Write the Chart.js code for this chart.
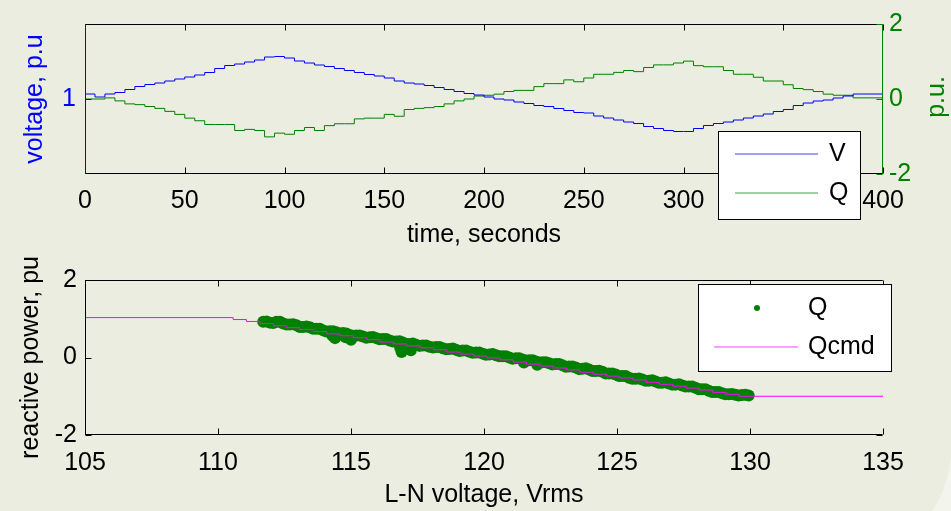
<!DOCTYPE html>
<html><head><meta charset="utf-8">
<script src="https://cdn.jsdelivr.net/npm/chart.js@4.4.1/dist/chart.umd.min.js"></script>
<style>
html,body{margin:0;padding:0;width:951px;height:511px;overflow:hidden;background:#f3f4ec;}
#bg{position:absolute;left:0;top:0;width:951px;height:557px;background:#eaeddf;border-bottom-right-radius:107px;}
canvas{position:absolute;left:0;}
#c1{top:0;width:951px;height:255px;}
#c2{top:255px;width:951px;height:256px;}
</style></head><body>
<div id="bg"></div>
<canvas id="c1" width="951" height="255"></canvas>
<canvas id="c2" width="951" height="256"></canvas>
<script>
// ---- top plot data ----
const timeSec = [0,5,10,15,20,25,30,35,40,45,50,55,60,65,70,75,80,85,90,95,100,105,110,115,120,125,130,135,140,145,150,155,160,165,170,175,180,185,190,195,200,205,210,215,220,225,230,235,240,245,250,255,260,265,270,275,280,285,290,295,300,305,310,315,320,325,330,335,340,345,350,355,360,365,370,375,380,385,390,395,400];
const voltagePu = [1.010,1.004,1.010,1.013,1.019,1.025,1.029,1.032,1.036,1.040,
1.044,1.048,1.053,1.061,1.067,1.070,1.074,1.078,1.084,1.085,
1.082,1.076,1.072,1.068,1.065,1.061,1.057,1.053,1.049,1.046,
1.042,1.036,1.032,1.030,1.027,1.023,1.019,1.015,1.011,1.008,
1.004,1.000,0.998,0.994,0.991,0.987,0.985,0.981,0.977,0.973,
0.972,0.966,0.962,0.958,0.954,0.951,0.945,0.941,0.937,0.935,
0.935,0.941,0.947,0.951,0.954,0.958,0.962,0.966,0.970,0.975,
0.979,0.987,0.992,0.996,0.998,1.002,1.006,1.010,1.010,1.010,
1.010];
const reactivePu = [0.00,0.00,0.03,-0.05,-0.13,-0.15,-0.20,-0.25,-0.33,-0.41,
-0.51,-0.58,-0.68,-0.68,-0.68,-0.84,-0.81,-0.84,-1.01,-0.91,
-0.94,-0.84,-0.76,-0.84,-0.71,-0.66,-0.66,-0.53,-0.51,-0.51,
-0.41,-0.46,-0.28,-0.25,-0.23,-0.20,-0.13,-0.05,0.00,0.08,
0.10,0.13,0.20,0.23,0.23,0.33,0.41,0.41,0.51,0.46,
0.56,0.66,0.66,0.71,0.76,0.73,0.84,0.91,0.91,0.96,
1.01,0.89,0.86,0.86,0.76,0.66,0.66,0.58,0.48,0.48,
0.38,0.28,0.25,0.20,0.13,0.10,0.10,0.03,0.03,0.03,
-0.03];
const timeTicks = [0,50,100,150,200,250,300,350,400];
const voltageTicks = [1];
const reactiveTicks = [-2,0,2];

// ---- bottom plot data ----
const qcmdVrms = [105,110.57,111.07,111.58,112.08,112.58,113.08,113.58,114.09,114.59,115.09,115.59,116.09,116.6,117.1,117.6,118.1,118.6,119.1,119.6,120.1,120.6,121.1,121.6,122.1,122.6,123.1,123.6,124.1,124.6,125.1,125.6,126.1,126.6,127.1,127.6,128.1,128.6,129.1,129.6,135];
const qcmdPu = [1.03,0.98,0.93,0.88,0.82,0.77,0.72,0.67,0.61,0.56,0.51,0.46,0.40,0.35,0.30,0.25,0.20,0.14,0.09,0.04,-0.01,-0.06,-0.12,-0.17,-0.22,-0.27,-0.32,-0.38,-0.43,-0.48,-0.53,-0.58,-0.64,-0.69,-0.74,-0.79,-0.84,-0.90,-0.95,-1.00,-1.00];
// measured Q cloud: centre readings
const qMeasVrms = [111.7,111.95,112.2,112.45,112.7,112.95,113.2,113.45,113.7,113.95,114.2,114.45,114.7,114.95,115.2,115.45,115.7,115.95,116.2,116.45,116.7,116.95,117.2,117.45,117.7,117.95,118.2,118.45,118.7,118.95,119.2,119.45,119.7,119.95,120.2,120.45,120.7,120.95,121.2,121.45,121.7,121.95,122.2,122.45,122.7,122.95,123.2,123.45,123.7,123.95,124.2,124.45,124.7,124.95,125.2,125.45,125.7,125.95,126.2,126.45,126.7,126.95,127.2,127.45,127.7,127.95,128.2,128.45,128.7,128.95,129.2,129.45,129.7,129.95];
const qMeasPu = [0.92,0.90,0.92,0.88,0.85,0.83,0.79,0.78,0.74,0.70,0.68,0.65,0.63,0.58,0.57,0.54,0.52,0.50,0.48,0.44,0.41,0.39,0.35,0.33,0.31,0.28,0.27,0.24,0.22,0.20,0.18,0.15,0.13,0.10,0.08,0.06,0.03,0.00,-0.02,-0.05,-0.07,-0.10,-0.12,-0.15,-0.17,-0.20,-0.23,-0.26,-0.29,-0.31,-0.35,-0.37,-0.41,-0.44,-0.48,-0.52,-0.55,-0.57,-0.60,-0.62,-0.65,-0.67,-0.70,-0.72,-0.75,-0.78,-0.82,-0.86,-0.89,-0.92,-0.95,-0.96,-0.97,-0.98];
// measured Q cloud: readings between the centre readings
const qEdgeVrms = [111.825,112.075,112.325,112.575,112.825,113.075,113.325,113.575,113.825,114.075,114.325,114.575,114.825,115.075,115.325,115.575,115.825,116.075,116.325,116.575,116.825,117.075,117.325,117.575,117.825,118.075,118.325,118.575,118.825,119.075,119.325,119.575,119.825,120.075,120.325,120.575,120.825,121.075,121.325,121.575,121.825,122.075,122.325,122.575,122.825,123.075,123.325,123.575,123.825,124.075,124.325,124.575,124.825,125.075,125.325,125.575,125.825,126.075,126.325,126.575,126.825,127.075,127.325,127.575,127.825,128.075,128.325,128.575,128.825,129.075,129.325,129.575,129.825];
const qEdgePu = [0.93,0.89,0.92,0.85,0.86,0.79,0.80,0.74,0.74,0.67,
0.68,0.62,0.62,0.56,0.57,0.51,0.53,0.47,0.48,0.41,
0.42,0.35,0.36,0.30,0.31,0.26,0.27,0.21,0.23,0.17,
0.18,0.12,0.13,0.07,0.09,0.03,0.03,-0.03,-0.02,-0.08,
-0.07,-0.13,-0.12,-0.18,-0.17,-0.24,-0.23,-0.30,-0.28,-0.35,
-0.34,-0.41,-0.41,-0.48,-0.48,-0.55,-0.54,-0.60,-0.59,-0.65,
-0.64,-0.70,-0.69,-0.75,-0.75,-0.82,-0.82,-0.89,-0.89,-0.95,
-0.94,-0.98,-0.96];
// measured Q cloud: downward excursions
const qDipVrms = [114.3,114.4,114.8,115.0,116.85,116.9,117.2,117.25,121.5,122.0];
const qDipPu = [0.57,0.50,0.52,0.46,0.25,0.14,0.28,0.19,-0.13,-0.19];
const vrmsTicks = [105,110,115,120,125,130,135];
const qTicks = [-2,0,2];

const FAM = '"Liberation Sans", Arial, Helvetica, sans-serif';
const FS = 25;
const BLUE = '#0000ff', GREEN = '#008000', MAG = '#ff00ff';

function fixedTicks(arr){ return function(scale){ scale.ticks = arr.map(v => ({value: v})); }; }
function pts(xs, ys){ return xs.map((x, i) => ({x: x, y: ys[i]})); }

// box + inward ticks
function framePlugin(cfg){
  return { id: 'frame', afterDatasetsDraw(chart){
    const ctx = chart.ctx, a = chart.chartArea;
    const L = Math.round(a.left) + 0.5, R = Math.round(a.right) - 0.5;
    const T = Math.round(a.top) + 0.5, B = Math.round(a.bottom) - 0.5;
    const TL = 6;
    ctx.save(); ctx.lineWidth = 1;
    const line = (c, x1, y1, x2, y2) => { ctx.strokeStyle = c; ctx.beginPath(); ctx.moveTo(x1, y1); ctx.lineTo(x2, y2); ctx.stroke(); };
    line('#000', L, T, R, T);
    line('#000', L, B, R, B);
    const xs = chart.scales.x;
    xs.ticks.forEach(t => { const p = Math.round(xs.getPixelForValue(t.value)) + 0.5; line('#000', p, B, p, B - TL); line('#000', p, T, p, T + TL); });
    cfg.sides.forEach(s => {
      const sc = chart.scales[s.scale];
      const X = s.side === 'left' ? L : R, dir = s.side === 'left' ? 1 : -1;
      line(s.color, X, a.top, X, a.bottom);
      sc.ticks.forEach(t => { const p = Math.round(sc.getPixelForValue(t.value)) + 0.5; line(s.color, X, p, X + dir * TL, p); });
      if (s.mirror) sc.ticks.forEach(t => { const p = Math.round(sc.getPixelForValue(t.value)) + 0.5; const X2 = s.side === 'left' ? R : L; line(s.color, X2, p, X2 - dir * TL, p); });
    });
    ctx.restore();
  }};
}

function legendPlugin(cfg){
  return { id: 'boxlegend', afterDraw(chart){
    const ctx = chart.ctx; const oy = cfg.offsetY || 0;
    ctx.save();
    ctx.fillStyle = '#fff'; ctx.fillRect(cfg.x, cfg.y - oy, cfg.w, cfg.h);
    ctx.strokeStyle = '#000'; ctx.lineWidth = 1; ctx.strokeRect(cfg.x + 0.5, cfg.y - oy + 0.5, cfg.w, cfg.h);
    ctx.font = FS + 'px ' + FAM; ctx.textBaseline = 'middle'; ctx.textAlign = 'left'; ctx.fillStyle = '#000';
    cfg.items.forEach(it => {
      const ds = chart.data.datasets[it.ds];
      const y = it.y - oy;
      if (it.kind === 'dot') {
        ctx.fillStyle = ds.backgroundColor; ctx.beginPath(); ctx.arc(it.mx, y, 3, 0, Math.PI * 2); ctx.fill();
      } else {
        ctx.strokeStyle = ds.borderColor; ctx.globalAlpha = 0.75; ctx.beginPath(); ctx.moveTo(it.x1, y); ctx.lineTo(it.x2, y); ctx.stroke(); ctx.globalAlpha = 1;
      }
      ctx.fillStyle = '#000'; ctx.fillText(ds.label, it.tx, y);
    });
    if (cfg.extra) cfg.extra(ctx);
    ctx.restore();
  }};
}

// ---------- top chart ----------
new Chart(document.getElementById('c1'), {
  type: 'line',
  data: { datasets: [
    { label: 'V', yAxisID: 'y', data: pts(timeSec, voltagePu), borderColor: BLUE, backgroundColor: BLUE, borderWidth: 1, pointRadius: 0, stepped: true, order: 0 },
    { label: 'Q', yAxisID: 'y2', data: pts(timeSec, reactivePu), borderColor: GREEN, backgroundColor: GREEN, borderWidth: 1, pointRadius: 0, stepped: true, order: 1 }
  ]},
  options: {
    responsive: false, animation: false, events: [],
    layout: { padding: { top: 16, left: 0, right: 0, bottom: 0 } },
    plugins: { legend: { display: false }, tooltip: { enabled: false } },
    scales: {
      x: { type: 'linear', min: 0, max: 400, afterBuildTicks: fixedTicks(timeTicks), afterFit(s){ s.height = 81; },
           grid: { display: false, drawTicks: false }, border: { display: false },
           ticks: { autoSkip: false, maxRotation: 0, padding: 12, color: '#000', font: { family: FAM, size: FS } },
           title: { display: true, text: 'time, seconds', color: '#000', font: { family: FAM, size: FS }, padding: { top: 0, bottom: 5 } } },
      y: { type: 'linear', position: 'left', min: 0.85, max: 1.15, afterBuildTicks: fixedTicks(voltageTicks), afterFit(s){ s.width = 85; },
           grid: { display: false, drawTicks: false }, border: { display: false },
           ticks: { padding: 9, color: BLUE, font: { family: FAM, size: FS }, callback: v => String(v) },
           title: { display: true, text: 'voltage, p.u', color: BLUE, font: { family: FAM, size: FS }, padding: { top: 20, bottom: 0 } } },
      y2: { type: 'linear', position: 'right', min: -2, max: 2, afterBuildTicks: fixedTicks(reactiveTicks), afterFit(s){ s.width = 68; },
           grid: { display: false, drawTicks: false }, border: { display: false },
           ticks: { padding: 6, color: GREEN, font: { family: FAM, size: FS }, callback: v => String(v) },
           title: { display: false } }
    }
  },
  plugins: [
    framePlugin({ sides: [ { scale: 'y', side: 'left', color: BLUE }, { scale: 'y2', side: 'right', color: GREEN } ] }),
    legendPlugin({ x: 718, y: 131, w: 142, h: 88, items: [
      { ds: 0, x1: 735, x2: 818, y: 154, tx: 829 },
      { ds: 1, x1: 735, x2: 818, y: 193, tx: 829 } ],
      extra(ctx){ ctx.save(); ctx.fillStyle = GREEN; ctx.font = FS + 'px ' + FAM; ctx.textAlign = 'center'; ctx.textBaseline = 'middle';
        ctx.translate(937, 97); ctx.rotate(-Math.PI / 2); ctx.fillText('p.u.', 0, 0); ctx.restore(); } })
  ]
});

// ---------- bottom chart ----------
const qCloud = pts(qMeasVrms, qMeasPu).concat(pts(qEdgeVrms, qEdgePu), pts(qDipVrms, qDipPu));
new Chart(document.getElementById('c2'), {
  type: 'scatter',
  data: { datasets: [
    { label: 'Q', type: 'scatter', data: qCloud, backgroundColor: GREEN, borderColor: GREEN, borderWidth: 0, pointRadius: 6, order: 1 },
    { label: 'Qcmd', type: 'line', data: pts(qcmdVrms, qcmdPu), borderColor: MAG, backgroundColor: MAG, borderWidth: 1, pointRadius: 0, stepped: true, fill: false, order: 0 }
  ]},
  options: {
    responsive: false, animation: false, events: [],
    layout: { padding: { top: 25, left: 0, right: 68, bottom: 0 } },
    plugins: { legend: { display: false }, tooltip: { enabled: false } },
    scales: {
      x: { type: 'linear', min: 105, max: 135, afterBuildTicks: fixedTicks(vrmsTicks), afterFit(s){ s.height = 76; },
           grid: { display: false, drawTicks: false }, border: { display: false },
           ticks: { autoSkip: false, maxRotation: 0, padding: 13, color: '#000', font: { family: FAM, size: FS } },
           title: { display: true, text: 'L-N voltage, Vrms', color: '#000', font: { family: FAM, size: FS }, padding: { top: 0, bottom: 1 } } },
      y: { type: 'linear', position: 'left', min: -2, max: 2, afterBuildTicks: fixedTicks(qTicks), afterFit(s){ s.width = 85; },
           grid: { display: false, drawTicks: false }, border: { display: false },
           ticks: { padding: 8, color: '#000', font: { family: FAM, size: FS }, callback: v => String(v) },
           title: { display: true, text: 'reactive power, pu', color: '#000', font: { family: FAM, size: FS }, padding: { top: 16, bottom: 0 } } }
    }
  },
  plugins: [
    framePlugin({ sides: [ { scale: 'y', side: 'left', color: '#000', mirror: true } ] }),
    legendPlugin({ x: 698, y: 284, w: 193, h: 87, offsetY: 255, items: [
      { ds: 0, kind: 'dot', mx: 757, y: 308, tx: 808 },
      { ds: 1, x1: 714, x2: 798, y: 347, tx: 808 } ] })
  ]
});
</script>
</body></html>
